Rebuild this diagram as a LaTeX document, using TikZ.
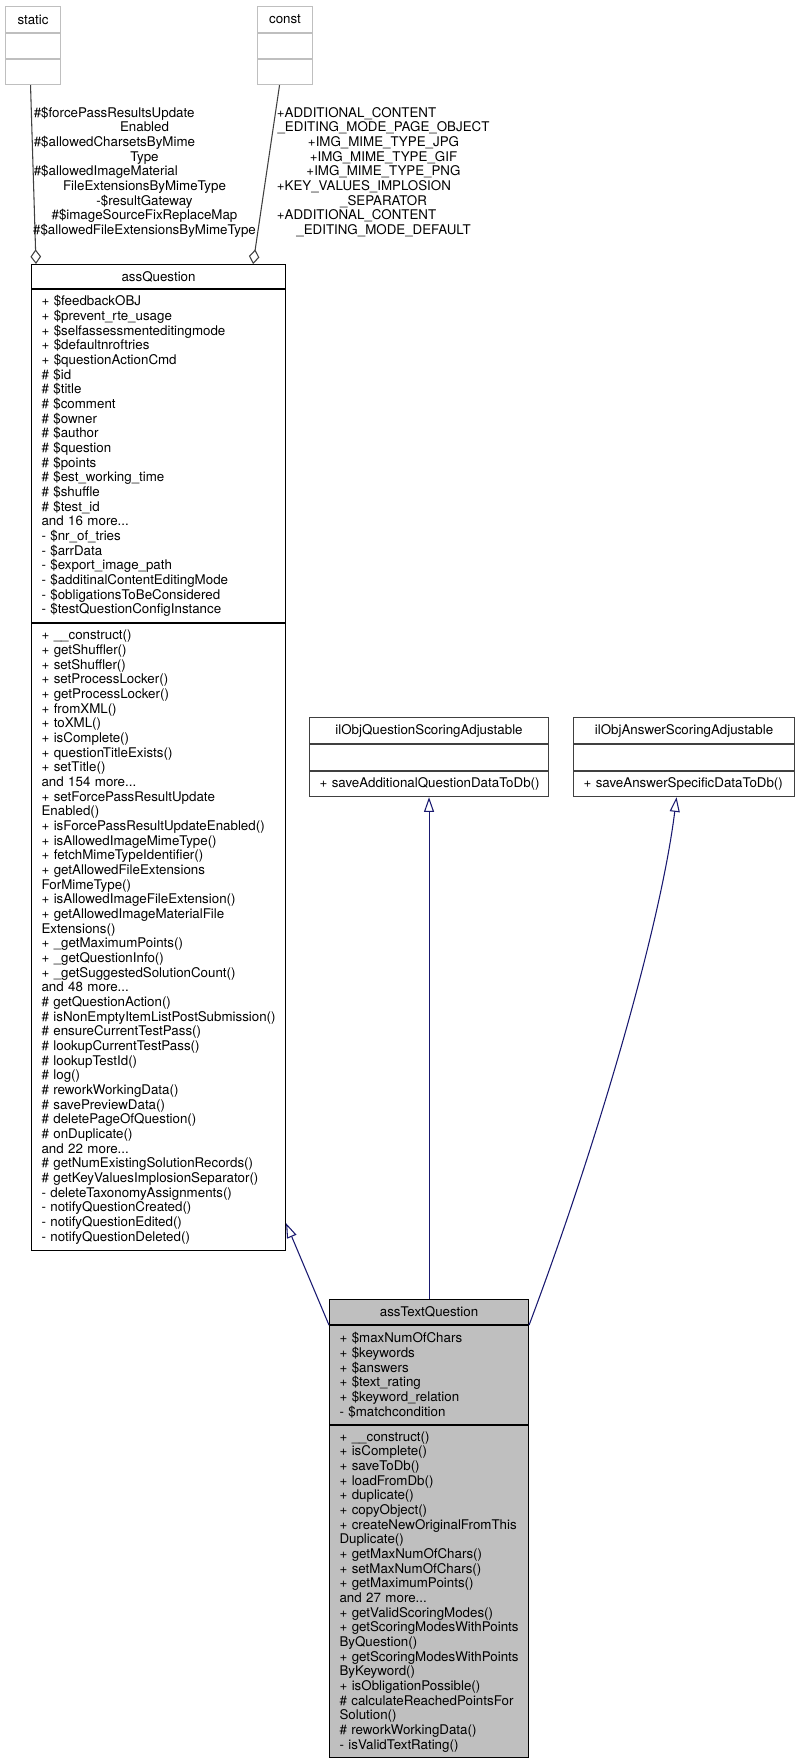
\documentclass[tikz,border=0pt]{standalone}
\usepackage{fontspec}
\setmainfont{TeX Gyre Heros}
\usetikzlibrary{arrows.meta,positioning,calc}
\definecolor{inheritcolor}{RGB}{25,25,112}
\definecolor{usagecolor}{RGB}{64,64,64}
\definecolor{pseudocolor}{RGB}{191,191,191}
\definecolor{ifacecolor}{RGB}{64,64,64}
\definecolor{currentcolor}{RGB}{191,191,191}
\newcommand{\pxu}{0.75pt}
\newcommand{\lblline}[2]{\makebox[#1][l]{#2}}
\newcommand{\boxfont}{\fontsize{10}{11}\selectfont\hyphenpenalty=10000\exhyphenpenalty=10000}
\tikzset{
    compart/.style 2 args={
        rectangle,
        draw=black,
        fill=white,
        line width=0.8pt,
        anchor=north west,
        inner xsep=7.5pt,
        inner ysep=0pt,
        minimum width=#1*\pxu,
        minimum height=#2*\pxu,
        font=\boxfont
    },
    headbox/.style 2 args={compart={#1}{#2}, align=center},
    listbox/.style n args={3}{compart={#1}{#2}, align=left, text width=#3},
    pseudo/.style={draw=pseudocolor},
    iface/.style={draw=ifacecolor},
    current/.style={fill=currentcolor},
    edgelabel/.style={font=\boxfont, align=center, inner sep=0pt},
    inherit/.style={-{Triangle[open, length=11pt, width=7.5pt]}, line width=0.8pt, color=inheritcolor},
    usage/.style={-{Diamond[open, length=11pt, width=8pt]}, line width=0.8pt, color=usagecolor}
}

\begin{document}
\begin{tikzpicture}[x=\pxu, y=-\pxu]
    \useasboundingbox (0,0) rectangle (799,1763);

    % Pseudo classes
    \node[headbox={55}{26}, pseudo] (stathead) at (5,6) {static};
    \node[headbox={55}{25}, pseudo] (statattr) at (stathead.south west) {};
    \node[headbox={55}{25}, pseudo] (statmeth) at (statattr.south west) {};
    \node[headbox={55}{26}, pseudo] (consthead) at (257,6) {const};
    \node[headbox={55}{25}, pseudo] (constattr) at (consthead.south west) {};
    \node[headbox={55}{25}, pseudo] (constmeth) at (constattr.south west) {};

    % Base class
    \node[headbox={254}{24}] (aqhead) at (31,264) {assQuestion};
    \node[listbox={254}{333}{175.5pt}] (aqattr) at (aqhead.south west)
          {+~\$feedbackOBJ\\
           +~\$prevent\_rte\_usage\\
           +~\$selfassessmenteditingmode\\
           +~\$defaultnroftries\\
           +~\$questionActionCmd\\
           \#~\$id\\
           \#~\$title\\
           \#~\$comment\\
           \#~\$owner\\
           \#~\$author\\
           \#~\$question\\
           \#~\$points\\
           \#~\$est\_working\_time\\
           \#~\$shuffle\\
           \#~\$test\_id\\
           and~16~more...\\
           -~\$nr\_of\_tries\\
           -~\$arrData\\
           -~\$export\_image\_path\\
           -~\$additinalContentEditingMode\\
           -~\$obligationsToBeConsidered\\
           -~\$testQuestionConfigInstance};
    \node[listbox={254}{627}{175.5pt}] (aqmeth) at (aqattr.south west)
          {+~\_\_construct()\\
           +~getShuffler()\\
           +~setShuffler()\\
           +~setProcessLocker()\\
           +~getProcessLocker()\\
           +~fromXML()\\
           +~toXML()\\
           +~isComplete()\\
           +~questionTitleExists()\\
           +~setTitle()\\
           and~154~more...\\
           +~setForcePassResultUpdate\\
           Enabled()\\
           +~isForcePassResultUpdateEnabled()\\
           +~isAllowedImageMimeType()\\
           +~fetchMimeTypeIdentifier()\\
           +~getAllowedFileExtensions\\
           ForMimeType()\\
           +~isAllowedImageFileExtension()\\
           +~getAllowedImageMaterialFile\\
           Extensions()\\
           +~\_getMaximumPoints()\\
           +~\_getQuestionInfo()\\
           +~\_getSuggestedSolutionCount()\\
           and~48~more...\\
           \#~getQuestionAction()\\
           \#~isNonEmptyItemListPostSubmission()\\
           \#~ensureCurrentTestPass()\\
           \#~lookupCurrentTestPass()\\
           \#~lookupTestId()\\
           \#~log()\\
           \#~reworkWorkingData()\\
           \#~savePreviewData()\\
           \#~deletePageOfQuestion()\\
           \#~onDuplicate()\\
           and~22~more...\\
           \#~getNumExistingSolutionRecords()\\
           \#~getKeyValuesImplosionSeparator()\\
           -~deleteTaxonomyAssignments()\\
           -~notifyQuestionCreated()\\
           -~notifyQuestionEdited()\\
           -~notifyQuestionDeleted()};

    % Interfaces
    \node[headbox={239}{26}, iface] (iqhead) at (309,717) {ilObjQuestionScoringAdjustable};
    \node[headbox={239}{26}, iface] (iqattr) at (iqhead.south west) {};
    \node[listbox={239}{25}{164.25pt}, iface] (iqmeth) at (iqattr.south west)
          {+~saveAdditionalQuestionDataToDb()};
    \node[headbox={221}{26}, iface] (iahead) at (573,717) {ilObjAnswerScoringAdjustable};
    \node[headbox={221}{26}, iface] (iaattr) at (iahead.south west) {};
    \node[listbox={221}{25}{150.75pt}, iface] (iameth) at (iaattr.south west)
          {+~saveAnswerSpecificDataToDb()};

    % Derived class
    \node[headbox={199}{25}, current] (atqhead) at (329,1299) {assTextQuestion};
    \node[listbox={199}{99}{134.25pt}, current] (atqattr) at (atqhead.south west)
          {+~\$maxNumOfChars\\
           +~\$keywords\\
           +~\$answers\\
           +~\$text\_rating\\
           +~\$keyword\_relation\\
           -~\$matchcondition};
    \node[listbox={199}{332}{134.25pt}, current] (atqmeth) at (atqattr.south west)
          {+~\_\_construct()\\
           +~isComplete()\\
           +~saveToDb()\\
           +~loadFromDb()\\
           +~duplicate()\\
           +~copyObject()\\
           +~createNewOriginalFromThis\\
           Duplicate()\\
           +~getMaxNumOfChars()\\
           +~setMaxNumOfChars()\\
           +~getMaximumPoints()\\
           and~27~more...\\
           +~getValidScoringModes()\\
           +~getScoringModesWithPoints\\
           ByQuestion()\\
           +~getScoringModesWithPoints\\
           ByKeyword()\\
           +~isObligationPossible()\\
           \#~calculateReachedPointsFor\\
           Solution()\\
           \#~reworkWorkingData()\\
           -~isValidTextRating()};

    % Usage edges
    \draw[usage] ([xshift=-2.5*\pxu]statmeth.south) -- ([xshift=5*\pxu]aqhead.north west);
    \draw[usage] ([xshift=-5.5*\pxu]constmeth.south) -- ([xshift=-33*\pxu]aqhead.north east);
    \node[edgelabel] (statlbl) at (144.5,172)
          {\lblline{166pt}{\#\$forcePassResultsUpdate}\\
           Enabled\\
           \lblline{166pt}{\#\$allowedCharsetsByMime}\\
           Type\\
           \lblline{166pt}{\#\$allowedImageMaterial}\\
           FileExtensionsByMimeType\\
           -\$resultGateway\\
           \#\$imageSourceFixReplaceMap\\
           \#\$allowedFileExtensionsByMimeType};
    \node[edgelabel] (constlbl) at (383.5,172)
          {\lblline{160pt}{+ADDITIONAL\_CONTENT}\\
           \_EDITING\_MODE\_PAGE\_OBJECT\\
           +IMG\_MIME\_TYPE\_JPG\\
           +IMG\_MIME\_TYPE\_GIF\\
           +IMG\_MIME\_TYPE\_PNG\\
           \lblline{160pt}{+KEY\_VALUES\_IMPLOSION}\\
           \_SEPARATOR\\
           \lblline{160pt}{+ADDITIONAL\_CONTENT}\\
           \_EDITING\_MODE\_DEFAULT};

    % Inheritance edges
    \draw[inherit] (atqhead.south west) -- ([yshift=28*\pxu]aqmeth.south east);
    \draw[inherit] (atqhead.north) -- (iqmeth.south);
    \draw[inherit] (atqhead.south east) .. controls (595,1150) and (660,930) .. ([xshift=-7.5*\pxu]iameth.south);
\end{tikzpicture}
\end{document}
